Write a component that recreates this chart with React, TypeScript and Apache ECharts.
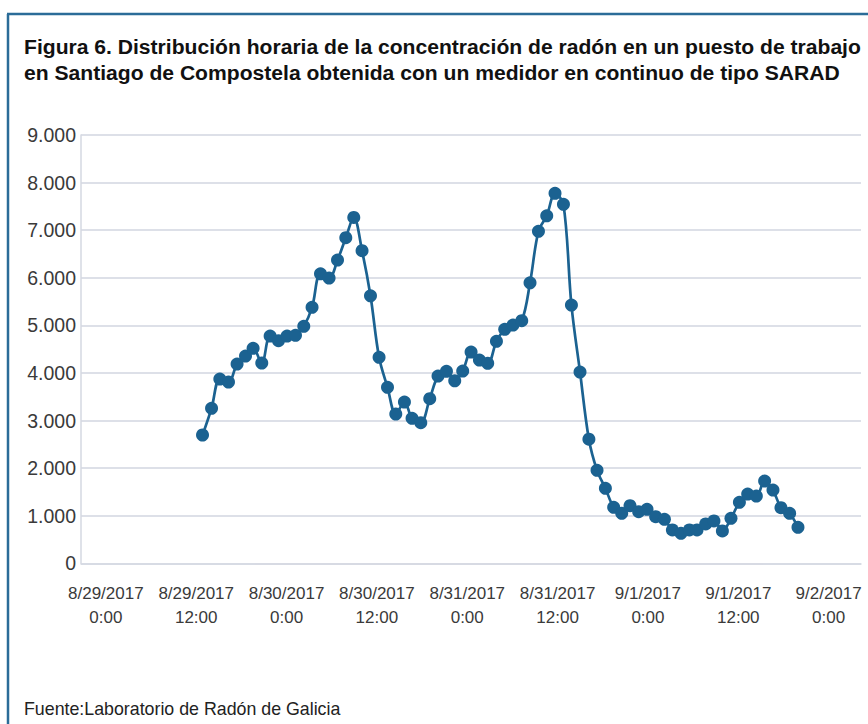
import React, { useEffect, useRef } from "react";
import * as echarts from "echarts";

// Hours elapsed since 8/29/2017 0:00 for each reading
const hours: number[] = [
  12.84, 14.04, 15.14, 16.29, 17.43, 18.55, 19.56, 20.71, 21.82, 22.93,
  24.07, 25.19, 26.29, 27.39, 28.51, 29.65, 30.77, 31.87, 32.93, 34.03,
  35.15, 36.29, 37.41, 38.51, 39.66, 40.67, 41.83, 43.02, 44.12, 45.24,
  46.34, 47.4, 48.51, 49.62, 50.72, 51.88, 52.98, 54.08, 55.24, 56.34,
  57.46, 58.56, 59.66, 60.78, 61.84, 62.98, 64.16, 65.24, 66.35, 67.45,
  68.52, 69.62, 70.77, 71.88, 73.03, 74.19, 75.25, 76.39, 77.51, 78.52,
  79.67, 80.77, 81.89, 83.03, 84.15, 85.25, 86.4, 87.5, 88.61, 89.67,
  90.82, 91.93,
];

// Radon concentration (Bq/m3)
const radon: number[] = [
  2696, 3257, 3872, 3809, 4187, 4355, 4517, 4208, 4776, 4677,
  4776, 4790, 4979, 5379, 6084, 5994, 6372, 6841, 7269, 6568,
  5622, 4328, 3698, 3137, 3389, 3046, 2954, 3458, 3935, 4034,
  3836, 4040, 4439, 4271, 4202, 4664, 4916, 5007, 5097, 5895,
  6975, 7303, 7774, 7543, 5427, 4019, 2607, 1954, 1576, 1177,
  1050, 1210, 1084, 1135, 979, 924, 700, 630, 700, 700,
  826, 889, 679, 945, 1282, 1456, 1414, 1729, 1540, 1168,
  1050, 756,
];

// x-axis label positions (hours since 8/29/2017 0:00)
const xTicks: number[] = [0, 12, 24, 36, 48, 60, 72, 84, 96];

const titleLines: string[] = [
  "Figura 6. Distribución horaria de la concentración de radón en un puesto de trabajo",
  "en Santiago de Compostela obtenida con un medidor en continuo de tipo SARAD",
];
const sourceText = "Fuente:Laboratorio de Radón de Galicia";

const FONT = "'Liberation Sans', Arial, Helvetica, sans-serif";

function fmtHour(h: number): string {
  const d = new Date(2017, 7, 29, 0, 0, 0);
  d.setTime(d.getTime() + Math.round(h) * 3600 * 1000);
  return `${d.getMonth() + 1}/${d.getDate()}/${d.getFullYear()}\n${d.getHours()}:00`;
}

export default function App() {
  const ref = useRef<HTMLDivElement>(null);

  useEffect(() => {
    if (!ref.current) return;
    const chart = echarts.init(ref.current, undefined, { renderer: "svg" });
    const data = hours.map((h, i) => [h, radon[i]]);
    chart.setOption({
      animation: false,
      backgroundColor: "#ffffff",
      title: {
        text: titleLines.join("\n"),
        left: 24,
        top: 33,
        padding: 0,
        textStyle: {
          fontFamily: FONT,
          fontWeight: "bold",
          fontSize: 21.1,
          lineHeight: 26,
          color: "#111111",
        },
      },
      graphic: [
        {
          type: "line",
          shape: { x1: 8, y1: 724, x2: 8, y2: 14 },
          style: { stroke: "#2b6c98", lineWidth: 2.5 },
        },
        {
          type: "line",
          shape: { x1: 7, y1: 14, x2: 868, y2: 14 },
          style: { stroke: "#2b6c98", lineWidth: 2.5 },
        },
        {
          type: "text",
          left: 24,
          top: 700,
          style: {
            text: sourceText,
            fontFamily: FONT,
            fontSize: 17.8,
            fill: "#222222",
          },
        },
      ],
      grid: { left: 81, top: 135, right: 7, bottom: 160.7, containLabel: false },
      xAxis: {
        type: "value",
        min: -3.3,
        max: 100.3,
        axisLine: { show: true, onZero: false, lineStyle: { color: "#d5d9e2", width: 1.5 } },
        axisTick: { show: false },
        splitLine: { show: false },
        axisLabel: {
          customValues: xTicks,
          formatter: (v: number) => fmtHour(v),
          fontFamily: FONT,
          fontSize: 17,
          lineHeight: 24,
          color: "#3a3a3a",
          margin: 18,
          align: "center",
        },
      },
      yAxis: {
        type: "value",
        min: 0,
        max: 9000,
        interval: 1000,
        axisLine: { show: true, onZero: false, lineStyle: { color: "#d5d9e2", width: 1.5 } },
        axisTick: { show: false },
        splitLine: { show: true, lineStyle: { color: "#dde0e8", width: 2 } },
        axisLabel: {
          formatter: (v: number) => (v === 0 ? "0" : `${v / 1000}.000`),
          fontFamily: FONT,
          fontSize: 19.5,
          color: "#3a3a3a",
          margin: 5,
        },
      },
      series: [
        {
          type: "line",
          data,
          smooth: 0.35,
          symbol: "circle",
          symbolSize: 13,
          itemStyle: { color: "#1b6291" },
          lineStyle: { color: "#1b6291", width: 2.7 },
        },
      ],
    });
    return () => chart.dispose();
  }, []);

  return (
    <div
      ref={ref}
      style={{ position: "fixed", left: 0, top: 0, width: 868, height: 724 }}
    />
  );
}
